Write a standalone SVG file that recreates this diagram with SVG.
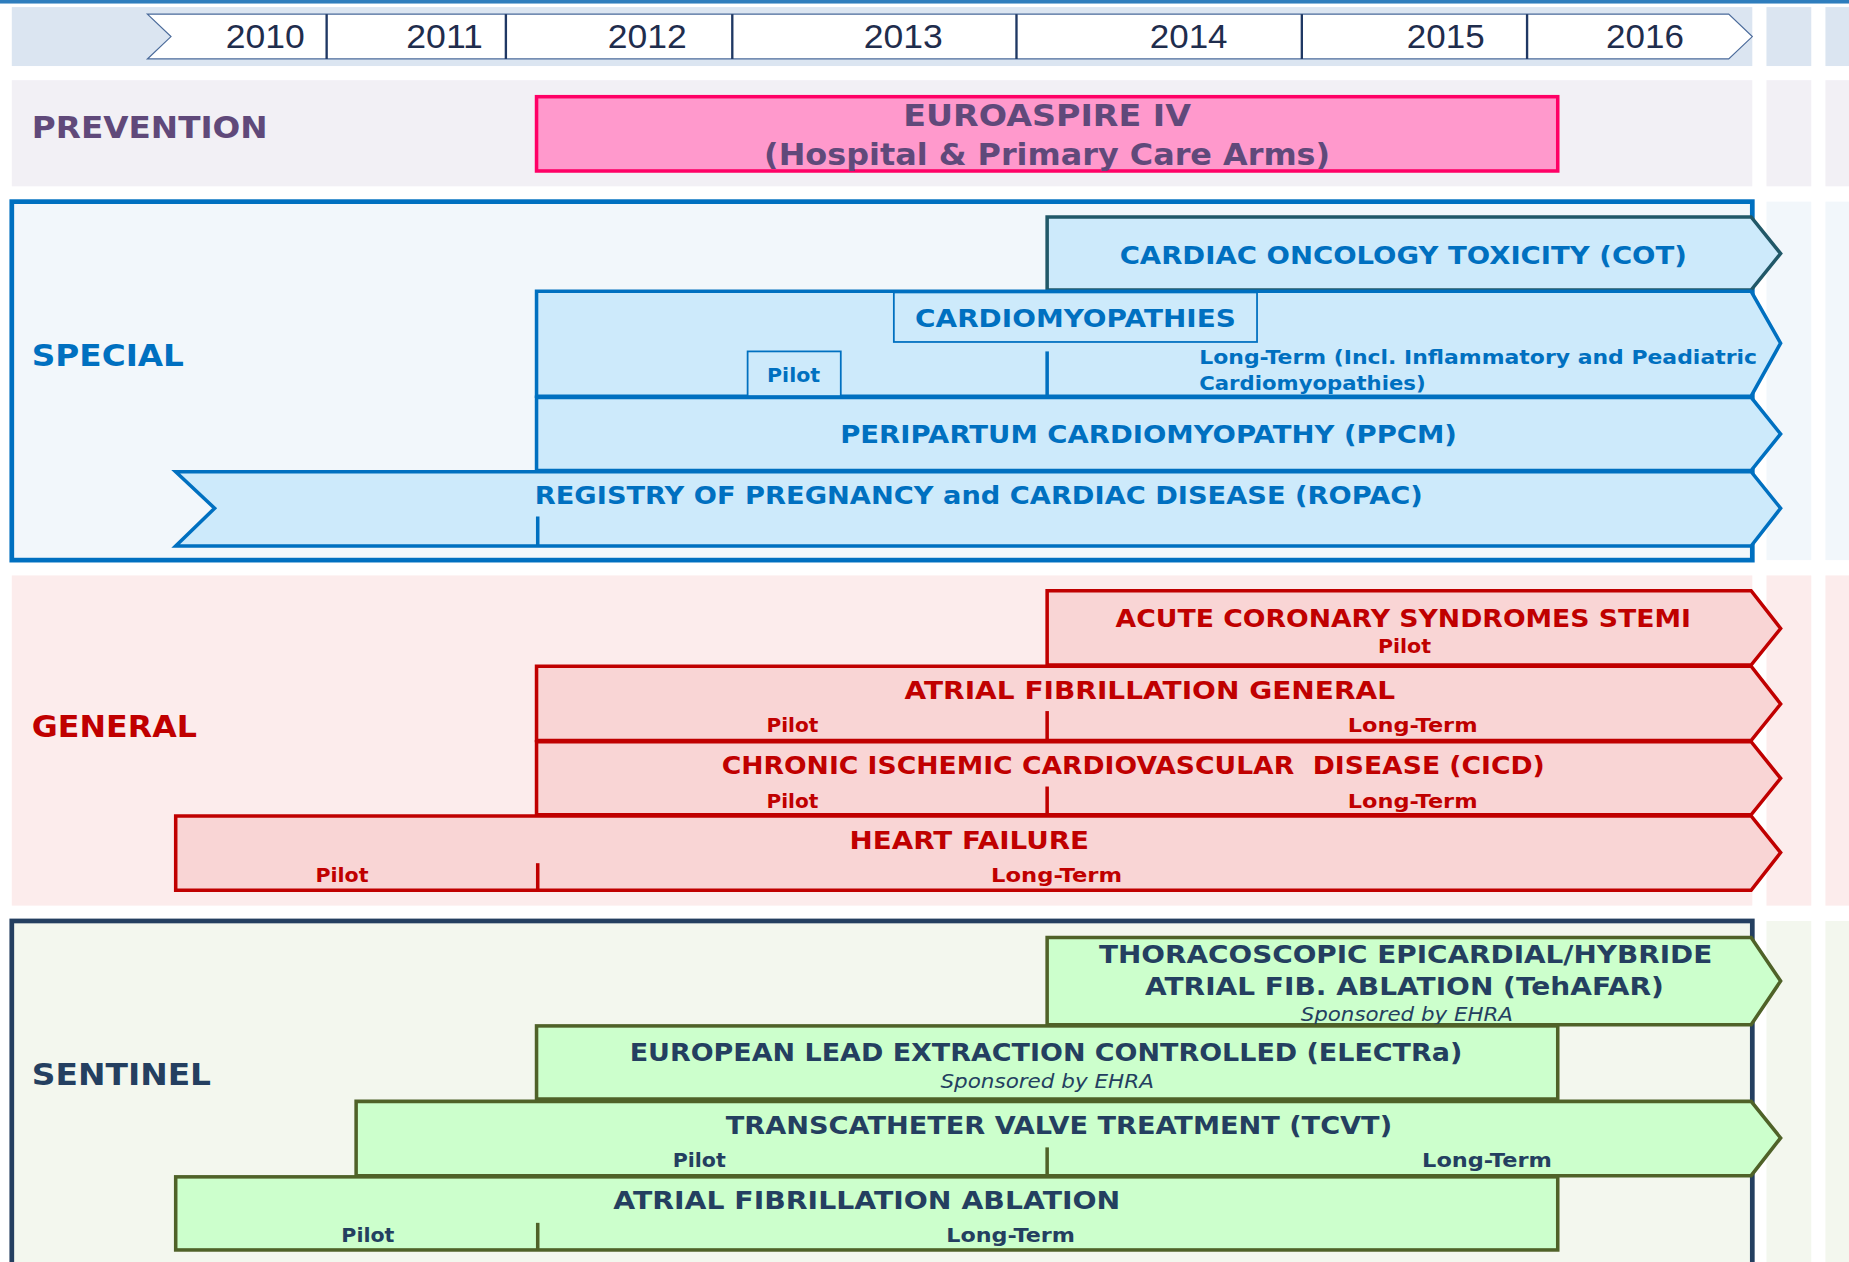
<svg xmlns="http://www.w3.org/2000/svg" width="1849" height="1262" viewBox="0 0 1849 1262">
<style>
.yr{font-family:"Liberation Sans",Arial,sans-serif;font-size:28px;fill:#1f2d4d;text-anchor:middle}
.sec{font-family:"DejaVu Sans",Verdana,sans-serif;font-weight:bold;font-size:25px}
.lb{font-family:"DejaVu Sans",Verdana,sans-serif;font-weight:bold;font-size:21px;text-anchor:middle}
.sm{font-family:"DejaVu Sans",Verdana,sans-serif;font-weight:bold;font-size:17px;text-anchor:middle}
.it{font-family:"DejaVu Sans",Verdana,sans-serif;font-style:italic;font-size:17px;text-anchor:middle}
.blue{fill:#0070c0}
.red{fill:#c00000}
.navy{fill:#243f60}
.purple{fill:#60497a}
.bS{fill:#cdeafb;stroke:#0070c0;stroke-width:3}
.bG{fill:#f9d5d5;stroke:#c00000;stroke-width:3}
.bN{fill:#ccffcc;stroke:#4f6228;stroke-width:3}
.dvS{stroke:#0070c0;stroke-width:3}
.dvG{stroke:#c00000;stroke-width:3}
.dvN{stroke:#4f6228;stroke-width:3}
.yd{stroke:#1f3864;stroke-width:2}
</style>
<rect width="1849" height="1262" fill="#ffffff"/>
<g transform="scale(1.17921)">
<rect x="0" y="0" width="1568" height="3" fill="#2e7dbd"/>
<g id="bands">
<rect x="10" y="6" width="1476" height="50" fill="#dbe5f1"/>
<rect x="1498" y="6" width="38" height="50" fill="#dbe5f1"/>
<rect x="1548" y="6" width="20" height="50" fill="#dbe5f1"/>
<rect x="10" y="68" width="1476" height="90" fill="#f2f0f5"/>
<rect x="1498" y="68" width="38" height="90" fill="#f2f0f5"/>
<rect x="1548" y="68" width="20" height="90" fill="#f2f0f5"/>
<rect x="1498" y="171" width="38" height="304" fill="#f2f7fb"/>
<rect x="1548" y="171" width="20" height="304" fill="#f2f7fb"/>
<rect x="10" y="488" width="1476" height="280" fill="#fcecec"/>
<rect x="1498" y="488" width="38" height="280" fill="#fcecec"/>
<rect x="1548" y="488" width="20" height="280" fill="#fcecec"/>
<rect x="1498" y="781" width="38" height="300" fill="#f3f7ee"/>
<rect x="1548" y="781" width="20" height="300" fill="#f3f7ee"/>
<rect x="10" y="171" width="1476" height="304" fill="#f2f7fb" stroke="#0070c0" stroke-width="4"/>
<rect x="10" y="781" width="1476" height="300" fill="#f3f7ee" stroke="#243f60" stroke-width="4"/>
</g>
<g id="timeline">
<path d="M125 12 H1466 L1486 31 L1466 50 H125 L145 31 Z" fill="#ffffff" stroke="#4a6a9a" stroke-width="1"/>
<line class="yd" x1="277" y1="12" x2="277" y2="50"/>
<line class="yd" x1="429" y1="12" x2="429" y2="50"/>
<line class="yd" x1="621" y1="12" x2="621" y2="50"/>
<line class="yd" x1="862" y1="12" x2="862" y2="50"/>
<line class="yd" x1="1104" y1="12" x2="1104" y2="50"/>
<line class="yd" x1="1295" y1="12" x2="1295" y2="50"/>
<text class="yr" x="225" y="41" textLength="67" lengthAdjust="spacingAndGlyphs">2010</text>
<text class="yr" x="377" y="41" textLength="65" lengthAdjust="spacingAndGlyphs">2011</text>
<text class="yr" x="549" y="41" textLength="67" lengthAdjust="spacingAndGlyphs">2012</text>
<text class="yr" x="766" y="41" textLength="67" lengthAdjust="spacingAndGlyphs">2013</text>
<text class="yr" x="1008" y="41" textLength="66" lengthAdjust="spacingAndGlyphs">2014</text>
<text class="yr" x="1226" y="41" textLength="66" lengthAdjust="spacingAndGlyphs">2015</text>
<text class="yr" x="1395" y="41" textLength="66" lengthAdjust="spacingAndGlyphs">2016</text>
</g>
<g id="section-labels">
<text class="sec purple" x="27" y="117" textLength="200" lengthAdjust="spacingAndGlyphs">PREVENTION</text>
<text class="sec blue" x="27" y="310" textLength="129" lengthAdjust="spacingAndGlyphs">SPECIAL</text>
<text class="sec red" x="27" y="625" textLength="140" lengthAdjust="spacingAndGlyphs">GENERAL</text>
<text class="sec navy" x="27" y="920" textLength="152" lengthAdjust="spacingAndGlyphs">SENTINEL</text>
</g>
<g id="euroaspire">
<rect x="455" y="82" width="866" height="63" fill="#ff99cc" stroke="#ff0066" stroke-width="3"/>
<text class="lb purple" x="888" y="107" font-size="25" textLength="244" lengthAdjust="spacingAndGlyphs" style="font-size:25px">EUROASPIRE IV</text>
<text class="lb purple" x="888" y="140" textLength="480" lengthAdjust="spacingAndGlyphs" style="font-size:25px">(Hospital &amp; Primary Care Arms)</text>
</g>
<g id="cot">
<path d="M888 246 V184 H1485 L1510 215 L1485 246 Z" fill="#cdeafb" stroke="#215868" stroke-width="3"/>
<text class="lb blue" x="1190" y="224" textLength="481" lengthAdjust="spacingAndGlyphs">CARDIAC ONCOLOGY TOXICITY (COT)</text>
</g>
<g id="cardiomyopathies">
<path class="bS" d="M455 247 H1485 L1510 291 L1485 336 H455 Z"/>
<rect x="758" y="248" width="308" height="42" fill="#cdeafb" stroke="#0070c0" stroke-width="1.5"/>
<text class="lb blue" x="912" y="277" textLength="272" lengthAdjust="spacingAndGlyphs">CARDIOMYOPATHIES</text>
<rect x="634" y="298" width="79" height="38" fill="#cdeafb" stroke="#0070c0" stroke-width="1.5"/>
<text class="sm blue" x="673" y="324" textLength="45" lengthAdjust="spacingAndGlyphs">Pilot</text>
<line class="dvS" x1="888" y1="298" x2="888" y2="336"/>
<text class="sm blue" x="1017" y="309" textLength="473" lengthAdjust="spacingAndGlyphs" style="text-anchor:start">Long-Term (Incl. Inflammatory and Peadiatric</text>
<text class="sm blue" x="1017" y="331" textLength="192" lengthAdjust="spacingAndGlyphs" style="text-anchor:start">Cardiomyopathies)</text>
</g>
<g id="ppcm">
<path class="bS" d="M455 337 H1485 L1510 368 L1485 399 H455 Z"/>
<text class="lb blue" x="974" y="376" textLength="523" lengthAdjust="spacingAndGlyphs">PERIPARTUM CARDIOMYOPATHY (PPCM)</text>
</g>
<g id="ropac">
<path class="bS" d="M149 400 H1485 L1510 431 L1485 463 H149 L182 431 Z"/>
<line class="dvS" x1="456" y1="438" x2="456" y2="463"/>
<text class="lb blue" x="830" y="427" textLength="753" lengthAdjust="spacingAndGlyphs">REGISTRY OF PREGNANCY and CARDIAC DISEASE (ROPAC)</text>
</g>
<g id="stemi">
<path class="bG" d="M888 564 V501 H1485 L1510 533 L1485 564 Z"/>
<text class="lb red" x="1190" y="532" textLength="488" lengthAdjust="spacingAndGlyphs">ACUTE CORONARY SYNDROMES STEMI</text>
<text class="sm red" x="1191" y="554" textLength="45" lengthAdjust="spacingAndGlyphs">Pilot</text>
</g>
<g id="af-general">
<path class="bG" d="M455 565 H1485 L1510 597 L1485 628 H455 Z"/>
<line class="dvG" x1="888" y1="603" x2="888" y2="628"/>
<text class="lb red" x="975" y="593" textLength="416" lengthAdjust="spacingAndGlyphs">ATRIAL FIBRILLATION GENERAL</text>
<text class="sm red" x="672" y="621" textLength="44" lengthAdjust="spacingAndGlyphs">Pilot</text>
<text class="sm red" x="1198" y="621" textLength="110" lengthAdjust="spacingAndGlyphs">Long-Term</text>
</g>
<g id="cicd">
<path class="bG" d="M455 629 H1485 L1510 660 L1485 691 H455 Z"/>
<line class="dvG" x1="888" y1="667" x2="888" y2="691"/>
<text class="lb red" x="961" y="656" textLength="698" lengthAdjust="spacingAndGlyphs" xml:space="preserve">CHRONIC ISCHEMIC CARDIOVASCULAR  DISEASE (CICD)</text>
<text class="sm red" x="672" y="685" textLength="44" lengthAdjust="spacingAndGlyphs">Pilot</text>
<text class="sm red" x="1198" y="685" textLength="110" lengthAdjust="spacingAndGlyphs">Long-Term</text>
</g>
<g id="heart-failure">
<path class="bG" d="M149 692 H1485 L1510 723 L1485 755 H149 Z"/>
<line class="dvG" x1="456" y1="732" x2="456" y2="755"/>
<text class="lb red" x="822" y="720" textLength="203" lengthAdjust="spacingAndGlyphs">HEART FAILURE</text>
<text class="sm red" x="290" y="748" textLength="45" lengthAdjust="spacingAndGlyphs">Pilot</text>
<text class="sm red" x="896" y="748" textLength="111" lengthAdjust="spacingAndGlyphs">Long-Term</text>
</g>
<g id="tehafar">
<path class="bN" d="M888 869 V795 H1485 L1510 832 L1485 869 Z"/>
<text class="lb navy" x="1192" y="817" textLength="520" lengthAdjust="spacingAndGlyphs">THORACOSCOPIC EPICARDIAL/HYBRIDE</text>
<text class="lb navy" x="1191" y="844" textLength="440" lengthAdjust="spacingAndGlyphs">ATRIAL FIB. ABLATION (TehAFAR)</text>
<text class="it navy" x="1193" y="866" textLength="180" lengthAdjust="spacingAndGlyphs">Sponsored by EHRA</text>
</g>
<g id="electra">
<rect class="bN" x="455" y="870" width="866" height="62"/>
<text class="lb navy" x="887" y="900" textLength="706" lengthAdjust="spacingAndGlyphs">EUROPEAN LEAD EXTRACTION CONTROLLED (ELECTRa)</text>
<text class="it navy" x="888" y="923" textLength="181" lengthAdjust="spacingAndGlyphs">Sponsored by EHRA</text>
</g>
<g id="tcvt">
<path class="bN" d="M302 997 V934 H1485 L1510 965 L1485 997 Z"/>
<line class="dvN" x1="888" y1="973" x2="888" y2="997"/>
<text class="lb navy" x="898" y="962" textLength="565" lengthAdjust="spacingAndGlyphs">TRANSCATHETER VALVE TREATMENT (TCVT)</text>
<text class="sm navy" x="593" y="990" textLength="45" lengthAdjust="spacingAndGlyphs">Pilot</text>
<text class="sm navy" x="1261" y="990" textLength="110" lengthAdjust="spacingAndGlyphs">Long-Term</text>
</g>
<g id="af-ablation">
<rect class="bN" x="149" y="998" width="1172" height="62"/>
<line class="dvN" x1="456" y1="1037" x2="456" y2="1060"/>
<text class="lb navy" x="735" y="1025" textLength="430" lengthAdjust="spacingAndGlyphs">ATRIAL FIBRILLATION ABLATION</text>
<text class="sm navy" x="312" y="1053" textLength="45" lengthAdjust="spacingAndGlyphs">Pilot</text>
<text class="sm navy" x="857" y="1053" textLength="109" lengthAdjust="spacingAndGlyphs">Long-Term</text>
</g>
<g id="connectors"/>
</g>
</svg>
